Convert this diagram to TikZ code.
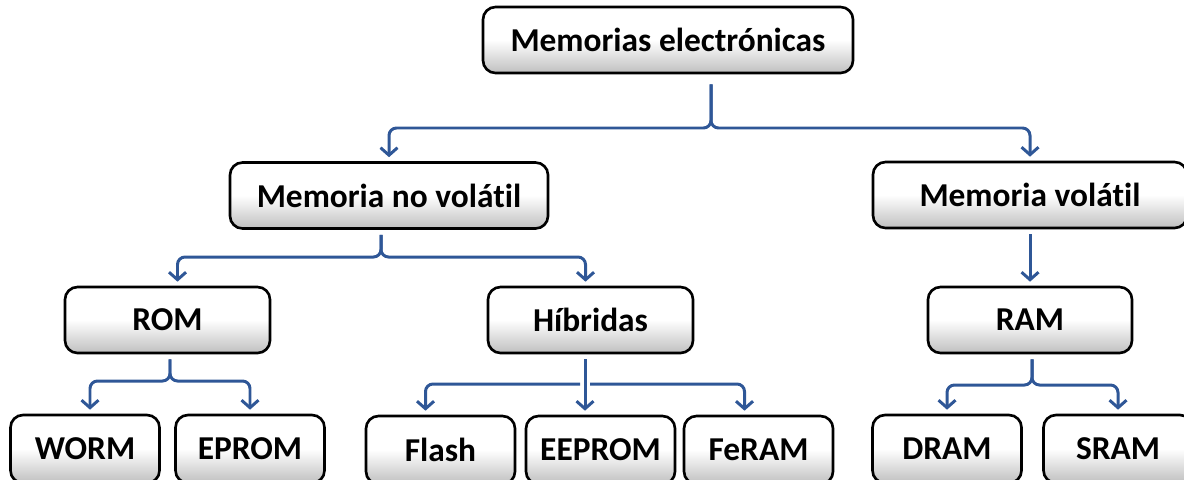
\documentclass[tikz,border=0pt]{standalone}
\usepackage{fontspec}
\setmainfont{Carlito}[Ligatures=NoCommon]
\usetikzlibrary{positioning,arrows.meta}
\definecolor{linkblue}{RGB}{47,87,151}

\begin{document}
\begin{tikzpicture}[node distance=2.5cm,
    mem box/.style={draw,line width=1.5pt,rounded corners=0.25cm,top color=white,bottom color=black!25,middle color=white,minimum height=1.32cm,inner sep=0pt,font=\bfseries\fontsize{19}{22}\selectfont},
    leaf box/.style={mem box,minimum width=2.98cm,minimum height=1.36cm},
    link/.style={draw=linkblue,line width=1.7pt,rounded corners=0.15cm,shorten <=0.1cm,shorten >=0.08cm,-{Straight Barb[length=1.5mm,width=3.4mm]}}]
                \useasboundingbox (0,0) rectangle (23.68,-9.58);
                \node[mem box,minimum width=7.4cm] (top) at (13.36,-0.80) {Memorias electrónicas};
                \node[mem box,minimum width=6.36cm] (nv) [below of=top,node distance=3.11cm,xshift=-5.58cm] {Memoria no volátil};
                \node[mem box,minimum width=6.28cm] (v) [below of=top,node distance=3.1cm,xshift=7.24cm] {Memoria volátil};
                \node[mem box,minimum width=4.1cm] (rom) [below of=nv,node distance=2.49cm,xshift=-4.43cm] {ROM};
                \node[mem box,minimum width=4.1cm] (hib) [below of=nv,node distance=2.49cm,xshift=4.03cm] {Híbridas};
                \node[mem box,minimum width=4.08cm] (ram) [below of=v] {RAM};
                \node[leaf box] (worm) [below of=rom,node distance=2.58cm,xshift=-1.65cm] {WORM};
                \node[leaf box] (eprom) [below of=rom,node distance=2.58cm,xshift=1.65cm] {EPROM};
                \node[leaf box] (flash) [below of=hib,node distance=2.6cm,xshift=-3.0cm] {Flash};
                \node[leaf box] (eeprom) [below of=hib,node distance=2.6cm,xshift=0.2cm] {EEPROM};
                \node[leaf box] (feram) [below of=hib,node distance=2.6cm,xshift=3.36cm] {FeRAM};
                \node[leaf box] (dram) [below of=ram,node distance=2.58cm,xshift=-1.66cm] {DRAM};
                \node[leaf box] (sram) [below of=ram,node distance=2.58cm,xshift=1.76cm] {SRAM};

                % branch points
                \coordinate (j top) at (14.22,-2.56);
                \coordinate (j nv) at (7.62,-5.14);
                \coordinate (j rom) at (3.40,-7.62);
                \coordinate (j hib) at (11.70,-7.68);
                \coordinate (j ram) at (20.64,-7.70);

                \path[link,shorten <=0.2cm] (top.south -| j top) -- (j top) -| (nv.north);
                \path[link,shorten <=0.2cm] (top.south -| j top) -- (j top) -| (v.north);
                \path[link] (nv.south -| j nv) -- (j nv) -| ([xshift=0.2cm]rom.north);
                \path[link] (nv.south -| j nv) -- (j nv) -| ([xshift=-0.1cm]hib.north);
                \path[link] (v) -- (ram);
                \path[link] (rom.south -| j rom) -- (j rom) -| ([xshift=0.1cm]worm.north);
                \path[link] (rom.south -| j rom) -- (j rom) -| (eprom.north);
                \path[link] (hib.south -| j hib) -- (eeprom.north -| j hib);
                \path[link] (j hib) -| ([xshift=-0.3cm]flash.north);
                \path[link] (j hib) -| ([xshift=-0.28cm]feram.north);
                \path[link] (ram.south -| j ram) -- (j ram) -| (dram.north);
                \path[link] (ram.south -| j ram) -- (j ram) -| (sram.north);
            \end{tikzpicture}
\end{document}
